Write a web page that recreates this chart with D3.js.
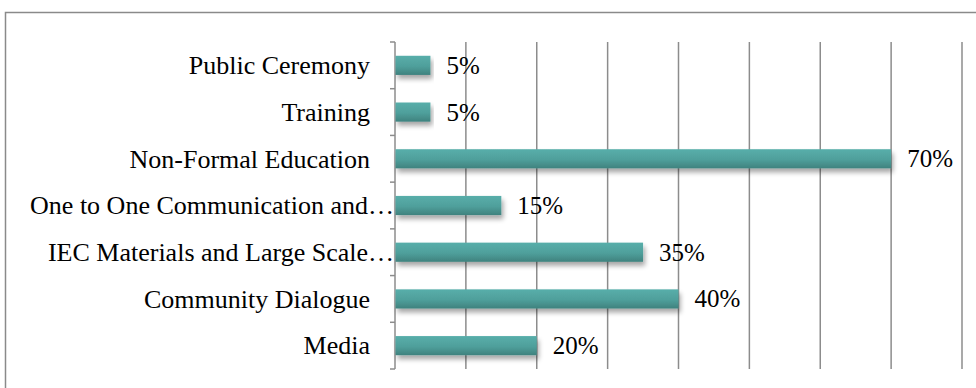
<!DOCTYPE html>
<html>
<head>
<meta charset="utf-8">
<script src="https://cdn.jsdelivr.net/npm/d3@7"></script>
<style>
  html, body { margin: 0; padding: 0; background: #fff; }
  svg { display: block; }
  text { font-family: "Liberation Serif", "Times New Roman", serif; fill: #000; }
</style>
</head>
<body>
<svg id="chart" width="976" height="388"></svg>
<script>
// Communication channels and their share (%)
const categories = [
  "Public Ceremony",
  "Training",
  "Non-Formal Education",
  "One to One Communication and…",
  "IEC Materials and Large Scale…",
  "Community Dialogue",
  "Media"
];
const values = [5, 5, 70, 15, 35, 40, 20];
const xTicks = [0, 10, 20, 30, 40, 50, 60, 70, 80];

const svg = d3.select("#chart");
const W = 976, H = 388;

// outer chart frame
svg.append("rect")
  .attr("x", 5.5).attr("y", 12.5)
  .attr("width", W + 10).attr("height", H + 10)
  .attr("fill", "#fff")
  .attr("stroke", "#8a8a8a").attr("stroke-width", 1.5);

const plot = { left: 395, right: 962, top: 42, bottom: 369 };

const x = d3.scaleLinear().domain([0, 80]).range([plot.left, plot.right]);
const y = d3.scaleBand().domain(categories).range([plot.top, plot.bottom]).padding(0);

// defs: bar gradient and soft shadow
const defs = svg.append("defs");
const grad = defs.append("linearGradient")
  .attr("id", "barFill").attr("x1", 0).attr("y1", 0).attr("x2", 0).attr("y2", 1);
grad.append("stop").attr("offset", "0%").attr("stop-color", "#58aeaa");
grad.append("stop").attr("offset", "55%").attr("stop-color", "#4f9f9b");
grad.append("stop").attr("offset", "100%").attr("stop-color", "#3f827e");

const shadow = defs.append("filter")
  .attr("id", "barShadow").attr("x", "-5%").attr("y", "-30%")
  .attr("width", "115%").attr("height", "190%");
shadow.append("feGaussianBlur").attr("in", "SourceAlpha").attr("stdDeviation", 2.5).attr("result", "blur");
shadow.append("feOffset").attr("in", "blur").attr("dx", 2).attr("dy", 4).attr("result", "off");
shadow.append("feComponentTransfer").attr("in", "off").attr("result", "soft")
  .append("feFuncA").attr("type", "linear").attr("slope", 0.35);
const merge = shadow.append("feMerge");
merge.append("feMergeNode").attr("in", "soft");
merge.append("feMergeNode").attr("in", "SourceGraphic");

// vertical gridlines
svg.append("g")
  .selectAll("line")
  .data(xTicks.slice(1))
  .join("line")
  .attr("x1", d => x(d)).attr("x2", d => x(d))
  .attr("y1", plot.top).attr("y2", plot.bottom)
  .attr("stroke", "#8c8c8c").attr("stroke-width", 1.5);

// category axis with outer tick marks
const yAxis = d3.axisLeft(y).tickSize(0).tickFormat("");
const axisG = svg.append("g").attr("transform", `translate(${plot.left},0)`).call(yAxis);
axisG.select(".domain").remove();
const tickYs = categories.map(c => y(c)).concat([plot.bottom]);
axisG.selectAll("line.sep")
  .data(tickYs)
  .join("line")
  .attr("class", "sep")
  .attr("x1", -5).attr("x2", 0)
  .attr("y1", d => d).attr("y2", d => d)
  .attr("stroke", "#8c8c8c").attr("stroke-width", 1.5);
axisG.append("line")
  .attr("x1", 0).attr("x2", 0)
  .attr("y1", plot.top).attr("y2", plot.bottom)
  .attr("stroke", "#8c8c8c").attr("stroke-width", 1.5);

// bars
const barH = y.bandwidth() * 0.41;
svg.append("g")
  .selectAll("rect")
  .data(categories)
  .join("rect")
  .attr("x", x(0) + 0.5)
  .attr("y", d => y(d) + (y.bandwidth() - barH) / 2)
  .attr("width", (d, i) => x(values[i]) - x(0) - 0.5)
  .attr("height", barH)
  .attr("fill", "url(#barFill)")
  .attr("filter", "url(#barShadow)");

// category labels (truncated ones run up to the axis)
svg.append("g")
  .selectAll("text")
  .data(categories)
  .join("text")
  .attr("x", d => d.endsWith("…") ? plot.left - 1 : plot.left - 25)
  .attr("y", d => y(d) + y.bandwidth() / 2)
  .attr("dy", "0.34em")
  .attr("text-anchor", "end")
  .attr("font-size", 26)
  .text(d => d);

// value labels
svg.append("g")
  .selectAll("text")
  .data(categories)
  .join("text")
  .attr("x", (d, i) => x(values[i]) + 16)
  .attr("y", d => y(d) + y.bandwidth() / 2)
  .attr("dy", "0.34em")
  .attr("font-size", 25)
  .text((d, i) => values[i] + "%");
</script>
</body>
</html>
